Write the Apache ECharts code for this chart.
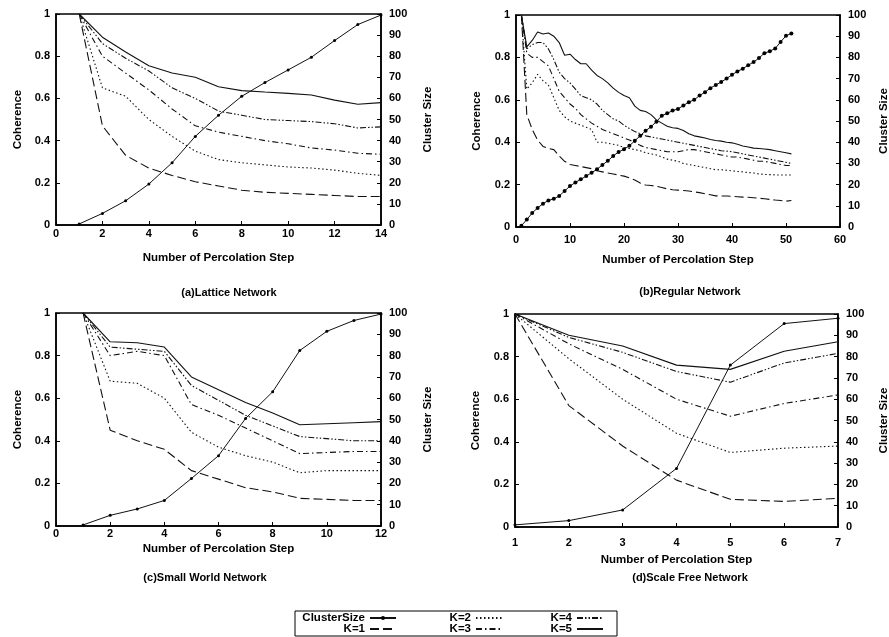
<!DOCTYPE html>
<html><head><meta charset="utf-8">
<script src="https://cdn.jsdelivr.net/npm/echarts@6/dist/echarts.min.js"></script>
<style>html,body{margin:0;padding:0;background:#fff}#c{width:889px;height:637px}</style>
</head><body><div id="c"></div>
<script>
// ---------- text ----------
const seriesNames = ['ClusterSize', 'K=1', 'K=2', 'K=3', 'K=4', 'K=5'];
const panelTitles = ['(a)Lattice Network', '(b)Regular Network', '(c)Small World Network', '(d)Scale Free Network'];
const xAxisName = 'Number of Percolation Step';
const leftAxisName = 'Coherence';
const rightAxisName = 'Cluster Size';

// ---------- (a) Lattice Network ----------
const aSteps   = [1, 2, 3, 4, 5, 6, 7, 8, 9, 10, 11, 12, 13, 14];
const aCluster = [0.5, 5.5, 11.5, 19.4, 29.5, 42, 52, 61, 67.5, 73.5, 79.5, 87.4, 95, 99.5];
const aK1 = [1.0, 0.47, 0.33, 0.27, 0.235, 0.205, 0.185, 0.165, 0.155, 0.15, 0.145, 0.14, 0.135, 0.135];
const aK2 = [1.0, 0.65, 0.61, 0.50, 0.42, 0.35, 0.31, 0.295, 0.285, 0.275, 0.27, 0.26, 0.245, 0.235];
const aK3 = [1.0, 0.80, 0.72, 0.64, 0.55, 0.47, 0.44, 0.42, 0.40, 0.385, 0.365, 0.355, 0.34, 0.335];
const aK4 = [1.0, 0.86, 0.79, 0.73, 0.65, 0.60, 0.54, 0.52, 0.50, 0.495, 0.49, 0.48, 0.46, 0.465];
const aK5 = [1.0, 0.89, 0.82, 0.755, 0.72, 0.70, 0.655, 0.637, 0.63, 0.624, 0.616, 0.592, 0.572, 0.58];

// ---------- (b) Regular Network ----------
const bSteps = [1,2,3,4,5,6,7,8,9,10,11,12,13,14,15,16,17,18,19,20,21,22,23,24,25,26,27,28,29,30,31,32,33,34,35,36,37,38,39,40,41,42,43,44,45,46,47,48,49,50,51];
const bCluster = [0.6,3.5,6.6,9,11,12.5,13.3,14.6,17,19.3,21,22.5,24,25.6,27.2,29.3,31.2,33.5,35.4,36.7,38.3,40.7,43,45.4,47.3,49.7,52.5,53.6,54.9,55.7,57.3,58.9,60,62,63.6,65.5,67,68.4,70,71.8,73.4,74.7,76.3,77.8,79.7,82,82.9,84.2,87.3,90.2,91.3];
const bK1 = [1.0,0.53,0.46,0.41,0.38,0.37,0.365,0.335,0.31,0.295,0.29,0.285,0.28,0.275,0.265,0.26,0.255,0.25,0.245,0.24,0.232,0.222,0.208,0.198,0.196,0.192,0.186,0.18,0.176,0.174,0.172,0.17,0.166,0.162,0.157,0.152,0.147,0.146,0.146,0.145,0.143,0.141,0.14,0.138,0.136,0.133,0.13,0.127,0.125,0.122,0.125];
const bK2 = [1.0,0.65,0.68,0.72,0.69,0.67,0.61,0.55,0.52,0.50,0.49,0.48,0.47,0.46,0.40,0.40,0.395,0.39,0.385,0.375,0.37,0.365,0.36,0.35,0.345,0.34,0.33,0.32,0.315,0.31,0.30,0.295,0.29,0.285,0.28,0.275,0.27,0.27,0.268,0.265,0.262,0.26,0.257,0.255,0.25,0.248,0.247,0.246,0.245,0.245,0.245];
const bK3 = [1.0,0.82,0.80,0.80,0.78,0.76,0.70,0.64,0.61,0.58,0.56,0.53,0.51,0.49,0.475,0.46,0.45,0.44,0.43,0.42,0.41,0.40,0.385,0.375,0.37,0.365,0.36,0.355,0.355,0.355,0.36,0.365,0.365,0.36,0.355,0.35,0.345,0.34,0.335,0.33,0.33,0.325,0.32,0.315,0.31,0.31,0.305,0.30,0.295,0.29,0.29];
const bK4 = [1.0,0.84,0.86,0.87,0.87,0.84,0.79,0.73,0.70,0.68,0.65,0.62,0.61,0.60,0.58,0.55,0.53,0.51,0.50,0.48,0.465,0.45,0.44,0.43,0.425,0.42,0.415,0.41,0.405,0.40,0.395,0.39,0.385,0.38,0.375,0.37,0.365,0.36,0.358,0.355,0.35,0.345,0.34,0.335,0.33,0.325,0.32,0.315,0.31,0.305,0.30];
const bK5 = [1.0,0.85,0.88,0.92,0.91,0.915,0.90,0.87,0.81,0.815,0.79,0.77,0.77,0.74,0.715,0.70,0.68,0.655,0.635,0.62,0.61,0.57,0.55,0.545,0.53,0.505,0.49,0.475,0.468,0.465,0.455,0.44,0.43,0.425,0.42,0.413,0.408,0.405,0.40,0.397,0.39,0.382,0.377,0.372,0.37,0.368,0.365,0.36,0.355,0.35,0.345];

// ---------- (c) Small World Network ----------
const cSteps   = [1, 2, 3, 4, 5, 6, 7, 8, 9, 10, 11, 12];
const cCluster = [0.5, 5, 8, 12, 22.3, 33, 50.5, 63, 82.4, 91.4, 96.5, 99.5];
const cK1 = [1.0, 0.45, 0.40, 0.36, 0.26, 0.22, 0.18, 0.16, 0.13, 0.125, 0.12, 0.12];
const cK2 = [1.0, 0.68, 0.67, 0.60, 0.44, 0.37, 0.33, 0.30, 0.25, 0.26, 0.26, 0.26];
const cK3 = [1.0, 0.80, 0.82, 0.80, 0.57, 0.52, 0.46, 0.40, 0.34, 0.345, 0.35, 0.35];
const cK4 = [1.0, 0.84, 0.83, 0.82, 0.66, 0.59, 0.52, 0.47, 0.42, 0.41, 0.40, 0.40];
const cK5 = [1.0, 0.865, 0.86, 0.84, 0.70, 0.64, 0.58, 0.53, 0.475, 0.48, 0.485, 0.49];

// ---------- (d) Scale Free Network ----------
const dSteps   = [1, 2, 3, 4, 5, 6, 7];
const dCluster = [1, 3, 8, 27.5, 76, 95.5, 98];
const dK1 = [1.0, 0.57, 0.38, 0.22, 0.13, 0.12, 0.135];
const dK2 = [1.0, 0.79, 0.60, 0.44, 0.35, 0.37, 0.38];
const dK3 = [1.0, 0.86, 0.74, 0.60, 0.52, 0.58, 0.62];
const dK4 = [1.0, 0.89, 0.82, 0.73, 0.68, 0.77, 0.815];
const dK5 = [1.0, 0.90, 0.85, 0.76, 0.74, 0.825, 0.87];

// ---------- tick settings ----------
const coherenceTicks = {min: 0, max: 1, interval: 0.2};
const clusterTicks = {min: 0, max: 100, interval: 10};
const xTicks = [
  {min: 0, max: 14, interval: 2},
  {min: 0, max: 60, interval: 10},
  {min: 0, max: 12, interval: 2},
  {min: 1, max: 7, interval: 1}
];

// ---------- layout / style (not data) ----------
const FONT = 'Liberation Sans, Arial, sans-serif';
const panels = [
  {steps: aSteps, cluster: aCluster, ks: [aK1, aK2, aK3, aK4, aK5],
   grid: {left: 56, top: 14, width: 325, height: 211}, xLabelMargin: 3, xNameGap: 27,
   leftGap: 32, rightGap: 41, caption: [229, 293], symSize: 3},
  {steps: bSteps, cluster: bCluster, ks: [bK1, bK2, bK3, bK4, bK5],
   grid: {left: 516, top: 15, width: 324, height: 212}, xLabelMargin: 7, xNameGap: 27,
   leftGap: 33, rightGap: 38, caption: [690, 292], symSize: 4},
  {steps: cSteps, cluster: cCluster, ks: [cK1, cK2, cK3, cK4, cK5],
   grid: {left: 56, top: 313, width: 325, height: 213}, xLabelMargin: 2, xNameGap: 17,
   leftGap: 32, rightGap: 41, caption: [205, 578], symSize: 3},
  {steps: dSteps, cluster: dCluster, ks: [dK1, dK2, dK3, dK4, dK5],
   grid: {left: 515, top: 314, width: 323, height: 213}, xLabelMargin: 10, xNameGap: 27,
   leftGap: 33, rightGap: 40, caption: [690, 578], symSize: 3}
];
const kLineTypes = [[9, 4], [1.5, 2.5], [6, 3, 1.5, 3], [6, 2, 1.5, 2, 1.5, 2], 'solid'];

const labelStyle = {color: '#000', fontFamily: FONT, fontWeight: 'bold', fontSize: 11};
const nameStyle = {color: '#000', fontFamily: FONT, fontWeight: 'bold', fontSize: 11.5};
const axisLine = {show: true, lineStyle: {color: '#000', width: 1.5}};
const axisTick = {show: true, inside: true, length: 4, lineStyle: {color: '#000', width: 1}};

const grids = [], xAxes = [], yAxes = [], series = [], graphics = [];
panels.forEach((p, i) => {
  grids.push(Object.assign({show: true, borderColor: '#000', borderWidth: 1.5,
    containLabel: false, outerBoundsMode: 'none'}, p.grid));
  xAxes.push(Object.assign({
    gridIndex: i, type: 'value', position: 'bottom',
    name: xAxisName, nameLocation: 'middle', nameGap: p.xNameGap, nameTextStyle: nameStyle,
    axisLine: axisLine, axisTick: axisTick, splitLine: {show: false},
    axisLabel: Object.assign({margin: p.xLabelMargin}, labelStyle)
  }, xTicks[i]));
  yAxes.push(Object.assign({
    gridIndex: i, type: 'value', position: 'left',
    name: leftAxisName, nameLocation: 'middle', nameGap: p.leftGap, nameRotate: 90, nameTextStyle: nameStyle,
    axisLine: axisLine, axisTick: axisTick, splitLine: {show: false},
    axisLabel: Object.assign({margin: 6}, labelStyle)
  }, coherenceTicks));
  yAxes.push(Object.assign({
    gridIndex: i, type: 'value', position: 'right',
    name: rightAxisName, nameLocation: 'middle', nameGap: p.rightGap, nameRotate: 90, nameTextStyle: nameStyle,
    axisLine: axisLine, axisTick: axisTick, splitLine: {show: false},
    axisLabel: Object.assign({margin: 8}, labelStyle)
  }, clusterTicks));

  series.push({
    name: seriesNames[0], type: 'line', xAxisIndex: i, yAxisIndex: 2 * i + 1,
    data: p.steps.map((s, j) => [s, p.cluster[j]]),
    symbol: 'circle', symbolSize: p.symSize, showSymbol: true,
    lineStyle: {color: '#111', width: 1}, itemStyle: {color: '#000'},
    animation: false, silent: true
  });
  p.ks.forEach((vals, k) => {
    series.push({
      name: seriesNames[k + 1], type: 'line', xAxisIndex: i, yAxisIndex: 2 * i,
      data: p.steps.map((s, j) => [s, vals[j]]),
      symbol: 'none', showSymbol: false,
      lineStyle: {color: '#111', width: 1.1, type: kLineTypes[k]},
      itemStyle: {color: '#000'},
      animation: false, silent: true
    });
  });
  graphics.push({
    type: 'text', x: p.caption[0], y: p.caption[1],
    style: {text: panelTitles[i], textAlign: 'center', textVerticalAlign: 'middle',
            font: 'bold 11px ' + FONT, fill: '#000'}
  });
});

// legend box
graphics.push({type: 'rect', shape: {x: 295, y: 611, width: 322, height: 25},
  style: {fill: 'none', stroke: '#000', lineWidth: 1}});

const legendBase = {align: 'right', orient: 'horizontal', itemWidth: 26, itemHeight: 8,
  padding: 0, itemGap: 0, selectedMode: false,
  textStyle: {color: '#000', fontFamily: FONT, fontWeight: 'bold', fontSize: 11.5}};
const legendSlots = [[492, 612], [492, 623], [386, 612], [386, 623], [285, 612], [285, 623]];
const legends = seriesNames.map((n, i) => Object.assign({}, legendBase,
  {data: [n], right: legendSlots[i][0], top: legendSlots[i][1]},
  i === 0 ? {itemHeight: 5, itemStyle: {color: '#000'}} : {itemStyle: {opacity: 0}}));

const chart = echarts.init(document.getElementById('c'), null, {renderer: 'canvas'});
chart.setOption({
  backgroundColor: '#fff',
  animation: false,
  grid: grids, xAxis: xAxes, yAxis: yAxes, series: series,
  legend: legends, graphic: graphics
});
</script></body></html>
